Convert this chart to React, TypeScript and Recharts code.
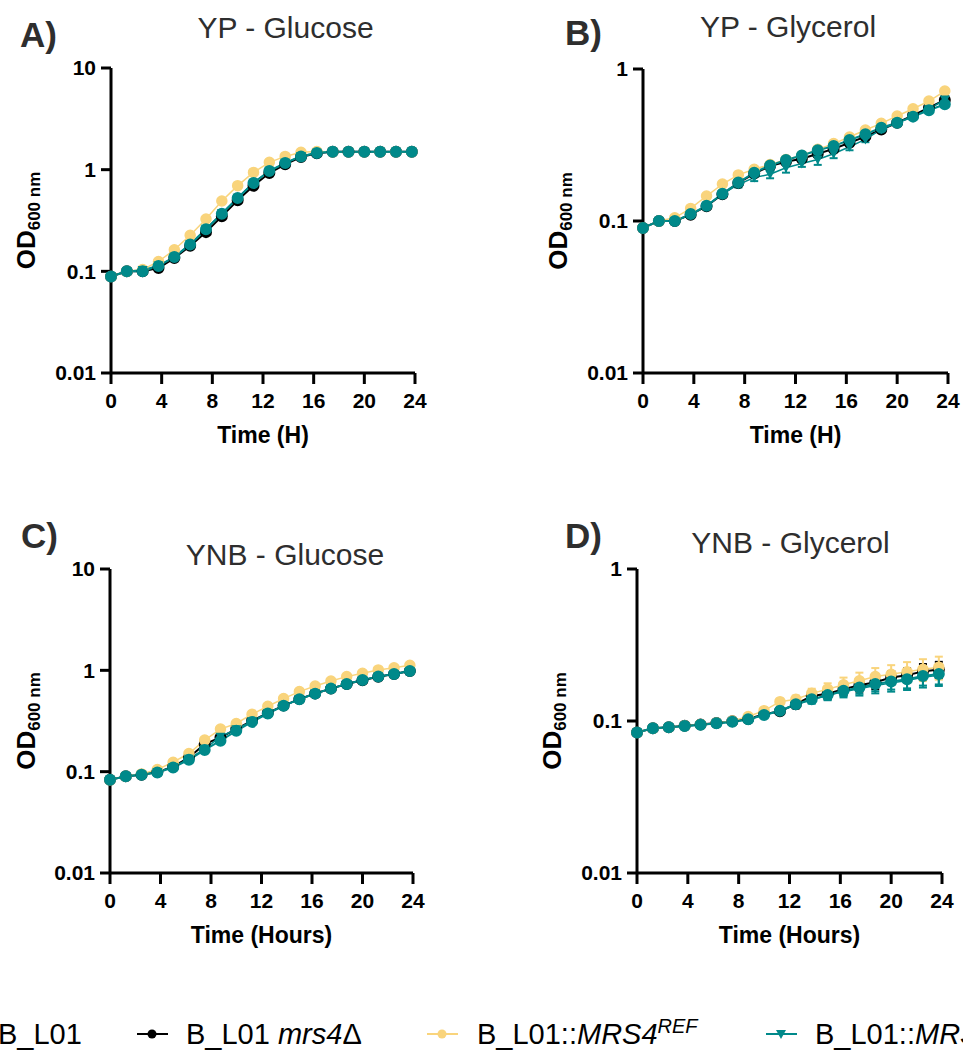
import React from 'react';
import { ErrorBar, Line, LineChart, XAxis, YAxis } from 'recharts';

const FONT = '"Liberation Sans", Arial, Helvetica, sans-serif';
const TEAL = '#00898a';
const GOLD = '#f9d47c';
const BLACK = '#000000';
const GREY_TEXT = '#2e2e2e';

// sampling times (hours)
const TIME = [0, 1.25, 2.5, 3.75, 5, 6.25, 7.5, 8.75, 10, 11.25, 12.5, 13.75, 15, 16.25, 17.5, 18.75, 20, 21.25, 22.5, 23.75];
const X_TICKS = [0, 4, 8, 12, 16, 20, 24];

// A) YP - Glucose
const A_WT = [0.089, 0.1, 0.1, 0.113, 0.138, 0.184, 0.259, 0.369, 0.526, 0.74, 0.97, 1.16, 1.35, 1.46, 1.5, 1.5, 1.5, 1.5, 1.5, 1.5];
const A_DEL = [0.089, 0.1, 0.1, 0.108, 0.135, 0.178, 0.243, 0.348, 0.5, 0.696, 0.927, 1.13, 1.33, 1.45, 1.5, 1.5, 1.5, 1.5, 1.5, 1.5];
const A_REF = [0.089, 0.1, 0.104, 0.125, 0.163, 0.226, 0.327, 0.492, 0.696, 0.94, 1.18, 1.35, 1.48, 1.51, 1.5, 1.5, 1.5, 1.5, 1.5, 1.5];
const A_ALT = [0.089, 0.1, 0.103, 0.114, 0.139, 0.186, 0.262, 0.372, 0.53, 0.745, 0.975, 1.17, 1.36, 1.47, 1.5, 1.5, 1.5, 1.5, 1.5, 1.5];

// B) YP - Glycerol
const B_WT = [0.09, 0.1, 0.1, 0.111, 0.126, 0.151, 0.179, 0.208, 0.232, 0.252, 0.27, 0.292, 0.311, 0.341, 0.372, 0.411, 0.443, 0.486, 0.535, 0.586];
const B_DEL = [0.09, 0.1, 0.1, 0.11, 0.125, 0.15, 0.178, 0.205, 0.23, 0.245, 0.257, 0.277, 0.298, 0.327, 0.359, 0.4, 0.443, 0.496, 0.557, 0.625];
const B_REF = [0.09, 0.1, 0.105, 0.121, 0.146, 0.175, 0.201, 0.219, 0.235, 0.254, 0.27, 0.296, 0.323, 0.357, 0.397, 0.439, 0.491, 0.548, 0.615, 0.716];
const B_ALT = [0.09, 0.1, 0.1, 0.11, 0.126, 0.15, 0.174, 0.193, 0.203, 0.224, 0.239, 0.254, 0.277, 0.308, 0.344, 0.401, 0.443, 0.486, 0.544, 0.63];
const B_ALT_ERR = [0, 0, 0.002, 0.003, 0.004, 0.006, 0.008, 0.01, 0.012, 0.016, 0.012, 0.02, 0.018, 0.016, 0.014, 0.012, 0.012, 0.012, 0.015, 0.015];

// C) YNB - Glucose
const C_WT = [0.083, 0.09, 0.093, 0.098, 0.11, 0.131, 0.164, 0.202, 0.253, 0.31, 0.375, 0.446, 0.519, 0.589, 0.66, 0.734, 0.803, 0.867, 0.92, 0.985];
const C_DEL = [0.083, 0.09, 0.093, 0.099, 0.112, 0.138, 0.187, 0.218, 0.263, 0.318, 0.38, 0.449, 0.52, 0.59, 0.66, 0.734, 0.8, 0.865, 0.92, 0.985];
const C_REF = [0.083, 0.09, 0.095, 0.105, 0.124, 0.151, 0.205, 0.263, 0.299, 0.369, 0.442, 0.526, 0.617, 0.701, 0.785, 0.867, 0.934, 1.01, 1.06, 1.12];
const C_ALT = [0.083, 0.09, 0.093, 0.099, 0.111, 0.134, 0.168, 0.221, 0.262, 0.315, 0.378, 0.447, 0.52, 0.59, 0.66, 0.735, 0.803, 0.867, 0.92, 0.985];

// D) YNB - Glycerol
const D_WT = [0.084, 0.0895, 0.091, 0.0927, 0.0946, 0.0965, 0.099, 0.1026, 0.1096, 0.117, 0.129, 0.139, 0.148, 0.158, 0.166, 0.175, 0.182, 0.188, 0.198, 0.204];
const D_DEL = [0.084, 0.0895, 0.091, 0.093, 0.095, 0.097, 0.0995, 0.103, 0.111, 0.116, 0.129, 0.146, 0.151, 0.162, 0.172, 0.18, 0.193, 0.2, 0.212, 0.218];
const D_REF = [0.084, 0.0895, 0.091, 0.093, 0.095, 0.097, 0.1, 0.107, 0.117, 0.134, 0.139, 0.152, 0.162, 0.173, 0.184, 0.196, 0.203, 0.211, 0.219, 0.226];
const D_ALT = [0.084, 0.0895, 0.091, 0.0925, 0.094, 0.096, 0.0985, 0.102, 0.109, 0.116, 0.128, 0.138, 0.147, 0.156, 0.163, 0.171, 0.178, 0.185, 0.194, 0.2];
const D_WT_ERR = [0, 0, 0, 0, 0, 0, 0.001, 0.002, 0.003, 0.004, 0.005, 0.007, 0.009, 0.012, 0.015, 0.018, 0.021, 0.024, 0.027, 0.03];
const D_DEL_ERR = [0, 0, 0, 0, 0, 0, 0.001, 0.002, 0.004, 0.006, 0.008, 0.011, 0.012, 0.014, 0.016, 0.018, 0.02, 0.022, 0.025, 0.027];
const D_REF_ERR = [0, 0, 0, 0, 0, 0, 0.001, 0.002, 0.004, 0.006, 0.008, 0.011, 0.015, 0.02, 0.024, 0.027, 0.03, 0.033, 0.036, 0.039];
const D_ALT_ERR = [0, 0, 0, 0, 0, 0, 0.001, 0.002, 0.003, 0.004, 0.006, 0.008, 0.01, 0.013, 0.016, 0.019, 0.022, 0.025, 0.028, 0.03];

type Vals = number[];
function buildRows(wt: Vals, del: Vals, ref: Vals, alt: Vals, errs?: { wt?: Vals; del?: Vals; ref?: Vals; alt?: Vals }) {
  return TIME.map((t, i) => ({
    t,
    wt: wt[i],
    del: del[i],
    ref: ref[i],
    alt: alt[i],
    wtErr: errs?.wt ? errs.wt[i] : 0,
    delErr: errs?.del ? errs.del[i] : 0,
    refErr: errs?.ref ? errs.ref[i] : 0,
    altErr: errs?.alt ? errs.alt[i] : 0,
  }));
}

const TriDot = (p: any) => {
  const { cx, cy, index } = p;
  if (cx == null || cy == null) return <g key={`tri-${index}`} />;
  return <path key={`tri-${index}`} d={`M${cx - 5},${cy - 4} L${cx + 5},${cy - 4} L${cx},${cy + 5} Z`} fill={TEAL} />;
};

const odLabel = (props: any) => {
  const vb = props.viewBox || { x: 0, y: 0, width: 0, height: 0 };
  const cx = vb.x + 35;
  const cy = vb.y + vb.height / 2;
  return (
    <text x={cx} y={cy} transform={`rotate(-90 ${cx} ${cy})`} textAnchor="middle" fontFamily={FONT} fontWeight={700} fill="#000">
      <tspan fontSize={26}>OD</tspan>
      <tspan fontSize={17} dy={5}>600 nm</tspan>
    </text>
  );
};

const timeLabel = (text: string) => (props: any) => {
  const vb = props.viewBox || { x: 0, y: 0, width: 0, height: 0 };
  return (
    <text x={vb.x + vb.width / 2} y={vb.y + 70} textAnchor="middle" fontFamily={FONT} fontWeight={700} fontSize={23} fill="#000">
      {text}
    </text>
  );
};

const tickStyle = { fill: '#000', fontSize: 21, fontWeight: 700, fontFamily: FONT };
const axisStroke = { stroke: '#000', strokeWidth: 3 };

type PanelProps = {
  data: ReturnType<typeof buildRows>;
  yDomain: [number, number];
  yTicks: number[];
  xTitle: string;
  left: number;
  top: number;
  width: number;
  plotLeft: number;
  plotTop: number;
  plotRight: number;
  plotBottom: number;
  errors?: boolean;
  altErrors?: boolean;
};

function Panel({ data, yDomain, yTicks, xTitle, left, top, width, plotLeft, plotTop, plotRight, plotBottom, errors, altErrors }: PanelProps) {
  const height = 470;
  const xAxisHeight = 80;
  return (
    <div style={{ position: 'absolute', left, top }}>
      <LineChart
        width={width}
        height={height}
        data={data}
        margin={{ top: plotTop, right: width - plotRight, bottom: height - plotBottom - xAxisHeight, left: 0 }}
      >
        <XAxis
          type="number"
          dataKey="t"
          domain={[0, 24]}
          ticks={X_TICKS}
          interval={0}
          height={xAxisHeight}
          axisLine={axisStroke}
          tickLine={axisStroke}
          tickSize={11}
          tickMargin={9}
          tick={tickStyle}
          label={timeLabel(xTitle)}
        />
        <YAxis
          type="number"
          scale="log"
          domain={yDomain}
          ticks={yTicks}
          allowDataOverflow
          interval={0}
          width={plotLeft}
          axisLine={axisStroke}
          tickLine={axisStroke}
          tickSize={10}
          tickMargin={5}
          tick={tickStyle}
          tickFormatter={(v: number) => String(v)}
          label={odLabel}
        />
        <Line dataKey="del" name="B_L01 mrs4Δ" stroke={BLACK} strokeWidth={2} dot={{ r: 5, fill: BLACK, stroke: BLACK }} isAnimationActive={false}>
          {errors && <ErrorBar dataKey="delErr" direction="y" width={4} strokeWidth={2} stroke={BLACK} />}
        </Line>
        <Line dataKey="ref" name="B_L01::MRS4 REF" stroke={GOLD} strokeWidth={1.5} dot={{ r: 5, fill: GOLD, stroke: GOLD }} isAnimationActive={false}>
          {errors && <ErrorBar dataKey="refErr" direction="y" width={4} strokeWidth={2} stroke={GOLD} />}
        </Line>
        <Line dataKey="alt" name="B_L01::MRS4" stroke={TEAL} strokeWidth={1.5} dot={TriDot} isAnimationActive={false}>
          {(errors || altErrors) && <ErrorBar dataKey="altErr" direction="y" width={4} strokeWidth={2} stroke={TEAL} />}
        </Line>
        <Line dataKey="wt" name="B_L01" stroke={TEAL} strokeWidth={2} dot={{ r: 5, fill: TEAL, stroke: TEAL }} isAnimationActive={false}>
          {errors && <ErrorBar dataKey="wtErr" direction="y" width={4} strokeWidth={2} stroke={TEAL} />}
        </Line>
      </LineChart>
    </div>
  );
}

const LEGEND_Y = 1034;

function LegendMarker({ x, color, shape }: { x: number; color: string; shape: 'circle' | 'tri' }) {
  const cx = x + 15;
  return (
    <g>
      <line x1={x} x2={x + 31} y1={LEGEND_Y} y2={LEGEND_Y} stroke={color} strokeWidth={2} />
      {shape === 'circle' ? (
        <circle cx={cx} cy={LEGEND_Y} r={4.5} fill={color} />
      ) : (
        <path d={`M${cx - 5},${LEGEND_Y - 4} L${cx + 5},${LEGEND_Y - 4} L${cx},${LEGEND_Y + 5} Z`} fill={color} />
      )}
    </g>
  );
}

function Overlay() {
  const letter = { fontFamily: FONT, fontWeight: 700, fontSize: 35, fill: GREY_TEXT };
  const title = { fontFamily: FONT, fontSize: 30, fill: GREY_TEXT, textAnchor: 'middle' as const };
  const leg = { fontFamily: FONT, fontSize: 29, fill: '#000' };
  return (
    <svg width={963} height={1052} style={{ position: 'absolute', left: 0, top: 0, pointerEvents: 'none' }}>
      <text x={20} y={47} {...letter}>A)</text>
      <text x={565} y={45} {...letter}>B)</text>
      <text x={21} y={548} {...letter}>C)</text>
      <text x={565} y={548} {...letter}>D)</text>

      <text x={285.5} y={38} {...title}>YP - Glucose</text>
      <text x={788} y={37} {...title}>YP - Glycerol</text>
      <text x={285} y={565} {...title}>YNB - Glucose</text>
      <text x={790.5} y={553} {...title}>YNB - Glycerol</text>

      <LegendMarker x={-51} color={TEAL} shape="circle" />
      <text x={-2} y={1044} {...leg}>B_L01</text>
      <LegendMarker x={137} color={BLACK} shape="circle" />
      <text x={186} y={1044} {...leg}>
        B_L01 <tspan fontStyle="italic">mrs4</tspan>Δ
      </text>
      <LegendMarker x={427} color={GOLD} shape="circle" />
      <text x={477} y={1044} {...leg}>
        B_L01::<tspan fontStyle="italic">MRS4</tspan>
        <tspan fontStyle="italic" fontSize={20} dy={-11}>REF</tspan>
      </text>
      <LegendMarker x={766} color={TEAL} shape="tri" />
      <text x={815} y={1044} {...leg}>
        B_L01::<tspan fontStyle="italic">MRS4</tspan>
      </text>
    </svg>
  );
}

export default function App() {
  const a = buildRows(A_WT, A_DEL, A_REF, A_ALT);
  const b = buildRows(B_WT, B_DEL, B_REF, B_ALT, { alt: B_ALT_ERR });
  const c = buildRows(C_WT, C_DEL, C_REF, C_ALT);
  const d = buildRows(D_WT, D_DEL, D_REF, D_ALT, { wt: D_WT_ERR, del: D_DEL_ERR, ref: D_REF_ERR, alt: D_ALT_ERR });
  return (
    <div style={{ position: 'absolute', left: 0, top: 0, width: 963, height: 1052, overflow: 'hidden', background: '#fff', fontFamily: FONT }}>
      <Panel data={a} yDomain={[0.01, 10]} yTicks={[0.01, 0.1, 1, 10]} xTitle="Time (H)" left={0} top={0} width={430} plotLeft={111} plotTop={68} plotRight={415} plotBottom={373} />
      <Panel data={b} yDomain={[0.01, 1]} yTicks={[0.01, 0.1, 1]} xTitle="Time (H)" left={532} top={0} width={431} plotLeft={111} plotTop={69} plotRight={416} plotBottom={373} altErrors />
      <Panel data={c} yDomain={[0.01, 10]} yTicks={[0.01, 0.1, 1, 10]} xTitle="Time (Hours)" left={0} top={500} width={430} plotLeft={110} plotTop={69} plotRight={413} plotBottom={373} />
      <Panel data={d} yDomain={[0.01, 1]} yTicks={[0.01, 0.1, 1]} xTitle="Time (Hours)" left={526} top={500} width={437} plotLeft={111} plotTop={69} plotRight={416} plotBottom={373} errors />
      <Overlay />
    </div>
  );
}
